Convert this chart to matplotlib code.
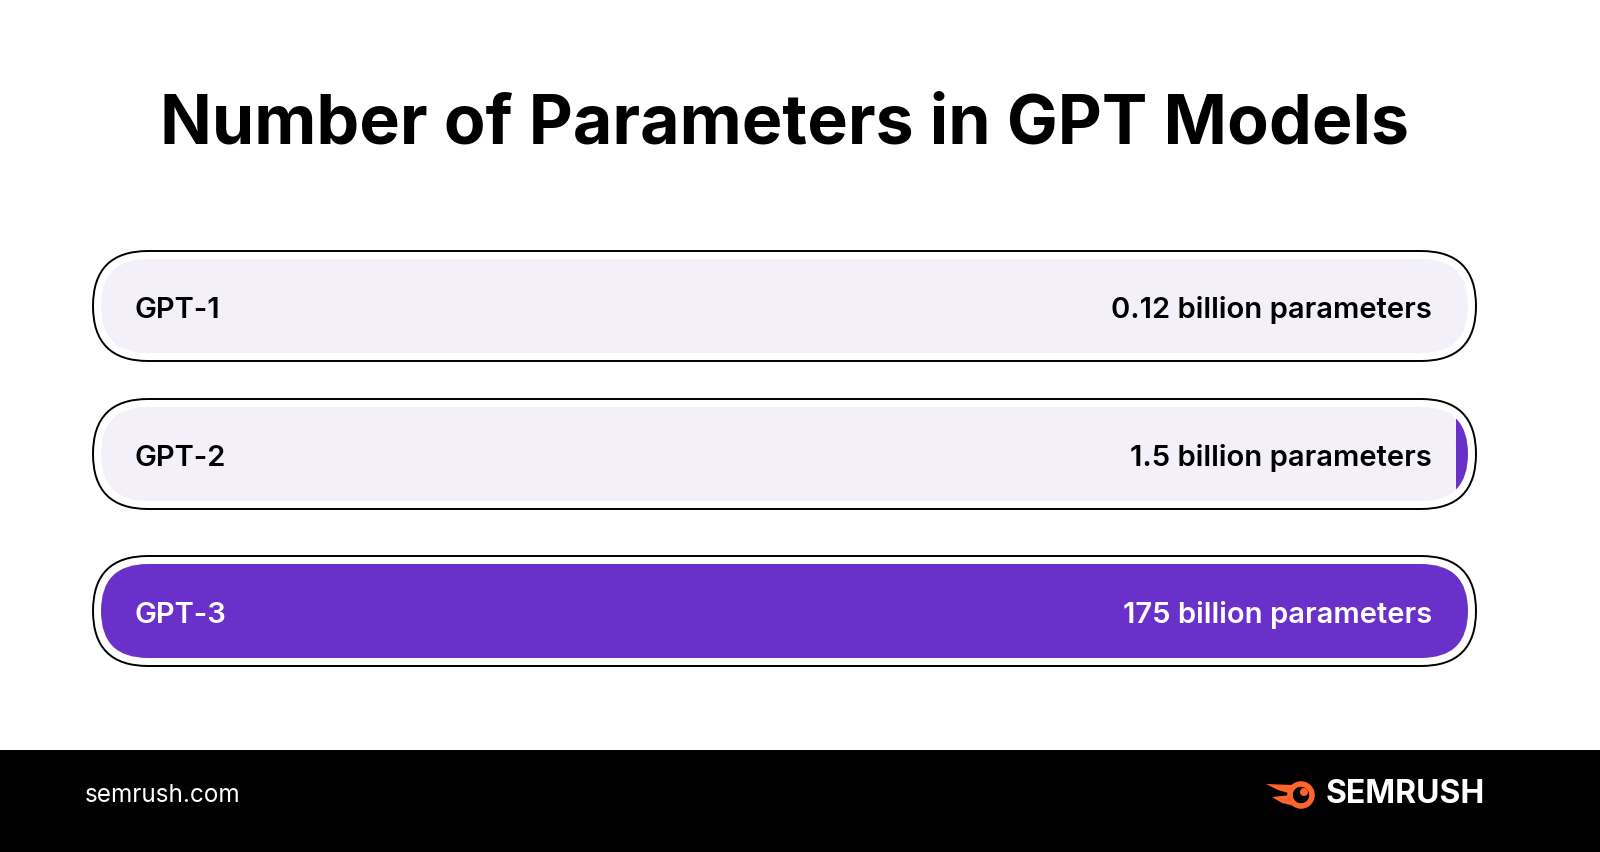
import numpy as np
import matplotlib.pyplot as plt
from matplotlib.patches import FancyBboxPatch, Rectangle, Circle, Polygon

# ── Daten ───────────────────────────────────────────────────
modelle = ['GPT-1', 'GPT-2', 'GPT-3']
parameter_mrd = [0.12, 1.5, 175]
wert_texte = ['0.12 billion parameters', '1.5 billion parameters',
              '175 billion parameters']
titel = 'Number of Parameters in GPT Models'

# ── Farben ──────────────────────────────────────────────────
LILA = '#6931C9'
HELL = '#F3F0FA'
ORANGE = '#FF642D'

plt.rcParams['font.family'] = ['Inter', 'DejaVu Sans']

W, H = 1600, 852
fig = plt.figure(figsize=(W / 100, H / 100), dpi=100)
ax = fig.add_axes([0, 0, 1, 1])
ax.set_xlim(0, W)
ax.set_ylim(H, 0)
ax.axis('off')

ax.text(784, 143, titel, ha='center', va='baseline',
        fontsize=49, fontweight='bold', color='black')

# ── Pillen ──────────────────────────────────────────────────
x0, x1 = 93, 1476
hoehe = 110
zeilen_y = [251, 399, 556]
inset = 8
max_wert = max(parameter_mrd)

for i, (name, wert, txt) in enumerate(zip(modelle, parameter_mrd, wert_texte)):
    y = zeilen_y[i]
    aussen = FancyBboxPatch((x0, y), x1 - x0, hoehe,
                            boxstyle=f'round,pad=0,rounding_size={hoehe / 2}',
                            facecolor='white', edgecolor='black', lw=1.4)
    ax.add_patch(aussen)

    ix0, iy = x0 + inset, y + inset
    iw, ih = (x1 - x0) - 2 * inset, hoehe - 2 * inset
    innen = FancyBboxPatch((ix0, iy), iw, ih,
                           boxstyle=f'round,pad=0,rounding_size={ih / 2}',
                           facecolor=HELL, edgecolor='none')
    ax.add_patch(innen)

    # Fuellung von rechts, proportional zum Wert
    breite = wert / max_wert * iw
    if breite >= 2:
        fuell = Rectangle((ix0 + iw - breite, iy), breite, ih,
                          facecolor=LILA, edgecolor='none')
        ax.add_patch(fuell)
        fuell.set_clip_path(innen)

    farbe = 'white' if wert == max_wert else 'black'
    ax.text(134, y + 67, name, ha='left', va='baseline',
            fontsize=21, fontweight='semibold', color=farbe)
    ax.text(1432, y + 67, txt, ha='right', va='baseline',
            fontsize=21, fontweight='semibold', color=farbe)

# ── Fusszeile ───────────────────────────────────────────────
ax.add_patch(Rectangle((0, 750), W, H - 750, facecolor='black',
                       edgecolor='none'))
ax.text(85, 802, 'semrush.com', ha='left', va='baseline',
        fontsize=17.5, color='white')
ax.text(1485, 803, 'SEMRUSH', ha='right', va='baseline',
        fontsize=23, fontweight='bold', color='white')

# Logo: Kreis mit Flammen
cx, cy = 1301, 795
ax.add_patch(Circle((cx, cy), 11, facecolor='none', edgecolor=ORANGE, lw=4))
ax.add_patch(Circle((cx + 3, cy - 3), 4, facecolor=ORANGE, edgecolor='none'))
ax.add_patch(Polygon([[1266, 784], [1293, 785], [1292, 794], [1278, 790]],
                     closed=True, facecolor=ORANGE, edgecolor='none'))
ax.add_patch(Polygon([[1272, 797], [1291, 795], [1295, 806], [1282, 803]],
                     closed=True, facecolor=ORANGE, edgecolor='none'))

fig.savefig('out.png', dpi=100, facecolor='white')
